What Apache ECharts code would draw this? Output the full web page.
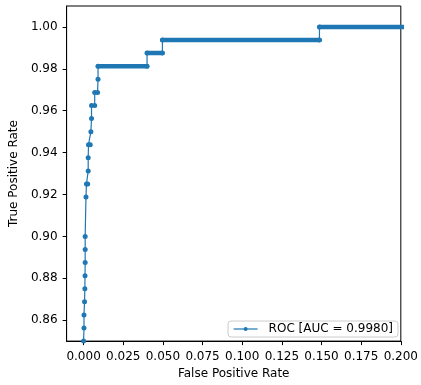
<!DOCTYPE html>
<html>
<head>
<meta charset="utf-8">
<script src="https://cdn.jsdelivr.net/npm/echarts@6/dist/echarts.min.js"></script>
<style>
  html, body { margin: 0; padding: 0; background: #fff; }
  #chart { width: 421px; height: 385px; }
</style>
</head>
<body>
<div id="chart"></div>
<script>
// ROC points (false positive rate, true positive rate)
const fpr = [0, 0, 0.00025, 0.00025, 0.0006, 0.0008, 0.0009, 0.001, 0.001, 0.001,
  0.0015, 0.0018, 0.0026, 0.0029, 0.0029, 0.0031, 0.0042, 0.0046, 0.0050, 0.0050,
  0.0070, 0.0070, 0.0088, 0.0091, 0.0091, 0.0400, 0.0400, 0.0497, 0.0497, 0.1487,
  0.1487, 1.0];
const tpr = [0.84375, 0.85, 0.85625, 0.8625, 0.86875, 0.875, 0.88125, 0.8875, 0.89375, 0.9,
  0.91875, 0.925, 0.925, 0.93125, 0.9375, 0.94375, 0.94375, 0.95, 0.95625, 0.9625,
  0.9625, 0.96875, 0.96875, 0.975, 0.98125, 0.98125, 0.9875, 0.9875, 0.99375, 0.99375,
  1.0, 1.0];

// horizontal runs where the threshold markers sit so close they form a solid band
const runStart = [0.0091, 0.0400, 0.0497, 0.1487];
const runEnd = [0.0400, 0.0497, 0.1487, 1.0];
const runTpr = [0.98125, 0.9875, 0.99375, 1.0];

const xTicks = [0, 0.025, 0.05, 0.075, 0.1, 0.125, 0.15, 0.175, 0.2];
const yTicks = [0.86, 0.88, 0.9, 0.92, 0.94, 0.96, 0.98, 1.0];

const seriesName = 'ROC [AUC = 0.9980]';
const BLUE = '#1f77b4';
const FONT = 'DejaVu Sans';

const chart = echarts.init(document.getElementById('chart'));

const rocData = fpr.map((x, i) => [x, tpr[i]]);

// 每段横向密集点用一条粗线代替
const runSeries = runTpr.map((y, i) => ({
  name: 'run' + i,
  type: 'line',
  data: [[runStart[i], y], [runEnd[i], y]],
  symbol: 'none',
  lineStyle: { color: BLUE, width: 4.5, cap: 'round' },
  silent: true,
  z: 2
}));

const option = {
  animation: false,
  grid: {
    left: 62, right: 17, top: 6, bottom: 39,
    show: true, borderColor: '#000', borderWidth: 1,
    containLabel: false
  },
  legend: {
    data: [seriesName],
    right: 23, bottom: 48,
    orient: 'vertical',
    backgroundColor: 'rgba(255,255,255,0.8)',
    borderColor: '#cccccc', borderWidth: 1, borderRadius: 3,
    padding: [2, 5, 2, 5],
    itemWidth: 24, itemHeight: 5,
    lineStyle: { width: 1.2 },
    textStyle: { fontFamily: FONT, fontSize: 12, color: '#000', padding: [0, 0, 0, 6] }
  },
  xAxis: {
    type: 'value',
    min: -0.0107, max: 0.2,
    name: 'False Positive Rate',
    nameLocation: 'middle', nameGap: 25,
    nameTextStyle: { fontFamily: FONT, fontSize: 12, color: '#000' },
    axisLine: { show: true, onZero: false, lineStyle: { color: '#000', width: 1 } },
    axisTick: { show: true, length: 4, lineStyle: { color: '#000' }, customValues: xTicks },
    axisLabel: {
      customValues: xTicks, margin: 10,
      fontFamily: FONT, fontSize: 12, color: '#000',
      formatter: v => v.toFixed(3)
    },
    splitLine: { show: false }
  },
  yAxis: {
    type: 'value',
    min: 0.85, max: 1.01,
    name: 'True Positive Rate',
    nameLocation: 'middle', nameGap: 41,
    nameTextStyle: { fontFamily: FONT, fontSize: 12, color: '#000' },
    axisLine: { show: true, onZero: false, lineStyle: { color: '#000', width: 1 } },
    axisTick: { show: true, length: 4, lineStyle: { color: '#000' }, customValues: yTicks },
    axisLabel: {
      customValues: yTicks, margin: 9,
      fontFamily: FONT, fontSize: 12, color: '#000',
      formatter: v => v.toFixed(2)
    },
    splitLine: { show: false }
  },
  series: [
    {
      name: seriesName,
      type: 'line',
      data: rocData,
      symbol: 'circle',
      symbolSize: 5,
      showAllSymbol: true,
      lineStyle: { color: BLUE, width: 1.2 },
      itemStyle: { color: BLUE },
      z: 3
    },
    ...runSeries
  ]
};

chart.setOption(option);
</script>
</body>
</html>
